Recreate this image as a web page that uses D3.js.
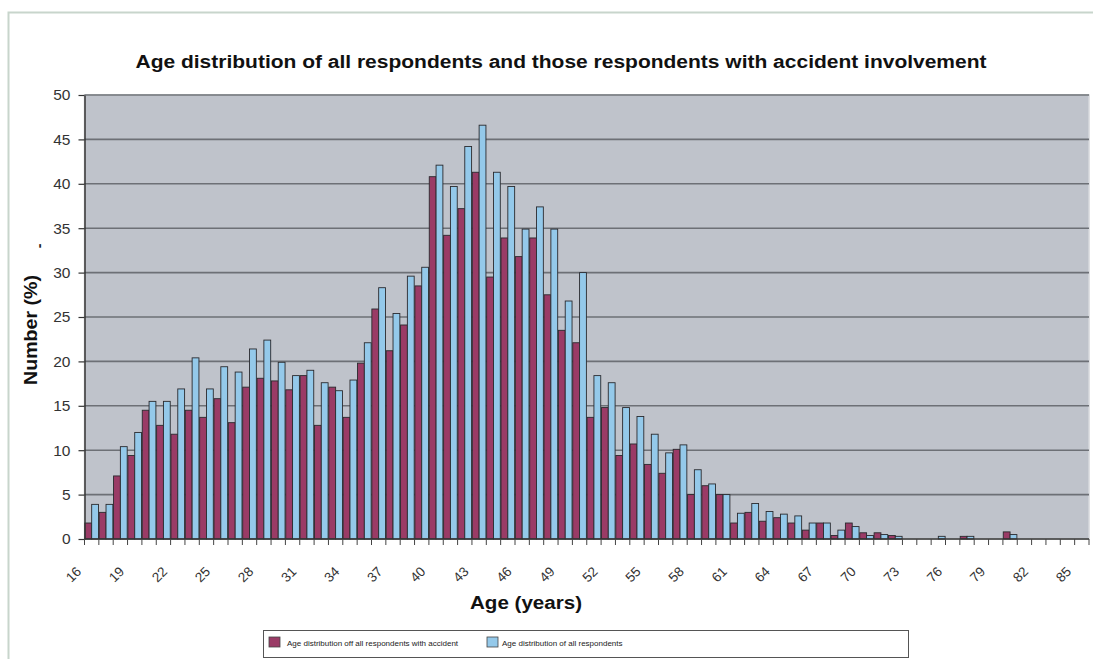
<!DOCTYPE html>
<html>
<head>
<meta charset="utf-8">
<script src="https://cdn.jsdelivr.net/npm/d3@7"></script>
<style>
  html, body { margin: 0; padding: 0; background: #ffffff; }
  svg { display: block; font-family: "Liberation Sans", Arial, sans-serif; }
</style>
</head>
<body>
<svg id="chart" width="1093" height="659"></svg>
<script>
// Ages 16 to 85, one category per year
const ages = d3.range(16, 86);

// Percentage of respondents with an accident, per age
const accidentValues = [
  1.8, 3.0, 7.1, 9.4, 14.5, 12.8, 11.8, 14.5, 13.7, 15.8,
  13.1, 17.1, 18.1, 17.8, 16.8, 18.4, 12.8, 17.1, 13.7, 19.8,
  25.9, 21.2, 24.1, 28.5, 40.8, 34.2, 37.2, 41.3, 29.5, 33.9,
  31.8, 33.9, 27.5, 23.5, 22.1, 13.7, 14.8, 9.4, 10.7, 8.4,
  7.4, 10.1, 5.0, 6.0, 5.0, 1.8, 3.0, 2.0, 2.4, 1.8,
  1.0, 1.8, 0.4, 1.8, 0.7, 0.7, 0.4, 0, 0, 0,
  0, 0.3, 0, 0, 0.8, 0, 0, 0, 0, 0
];

// Percentage of all respondents, per age
const allValues = [
  3.9, 3.9, 10.4, 12.0, 15.5, 15.5, 16.9, 20.4, 16.9, 19.4,
  18.8, 21.4, 22.4, 19.9, 18.4, 19.0, 17.6, 16.7, 17.9, 22.1,
  28.3, 25.4, 29.6, 30.6, 42.1, 39.7, 44.2, 46.6, 41.3, 39.7,
  34.9, 37.4, 34.9, 26.8, 30.0, 18.4, 17.6, 14.8, 13.8, 11.8,
  9.7, 10.6, 7.8, 6.2, 5.0, 2.9, 4.0, 3.1, 2.8, 2.6,
  1.8, 1.8, 1.0, 1.4, 0.4, 0.5, 0.3, 0, 0, 0.3,
  0, 0.3, 0, 0, 0.5, 0, 0, 0, 0, 0
];

const seriesNames = [
  "Age distribution off all respondents with accident",
  "Age distribution of all respondents"
];
const seriesColors = ["#9a3b66", "#94c9ea"];

const yTicks = d3.range(0, 51, 5);
const xTickLabels = ages.filter((a, i) => i % 3 === 0);

const titleText = "Age distribution of all respondents and those respondents with accident involvement";
const xTitle = "Age (years)";
const yTitle = "Number (%)";

const svg = d3.select("#chart");

// Outer frame (left and top edges)
svg.append("path")
  .attr("d", "M8.5,659 V12.5 H1093")
  .attr("fill", "none")
  .attr("stroke", "#c8d5cc")
  .attr("stroke-width", 2);

const plot = { left: 84.5, right: 1089, top: 95, bottom: 539 };

const x = d3.scaleBand()
  .domain(ages)
  .range([plot.left, plot.right])
  .paddingInner(0.05)
  .paddingOuter(0.025);

const xSub = d3.scaleBand()
  .domain([0, 1])
  .range([0, x.bandwidth()]);

const y = d3.scaleLinear()
  .domain([0, 50])
  .range([plot.bottom, plot.top]);

// Plot area background
svg.append("rect")
  .attr("x", plot.left)
  .attr("y", plot.top)
  .attr("width", plot.right - plot.left)
  .attr("height", plot.bottom - plot.top)
  .attr("fill", "#bfc3cb")
  .attr("stroke", "#d6d8dc")
  .attr("stroke-width", 1.5);

// Horizontal gridlines
svg.append("g")
  .selectAll("line")
  .data(yTicks.filter(v => v > 0))
  .join("line")
  .attr("x1", plot.left)
  .attr("x2", plot.right)
  .attr("y1", d => y(d))
  .attr("y2", d => y(d))
  .attr("stroke", "#6d7076")
  .attr("stroke-width", 1.6);

// Bars: accident series first, all respondents second, side by side
const rows = ages.map((a, i) => ({ age: a, values: [accidentValues[i], allValues[i]] }));

const groups = svg.append("g")
  .selectAll("g")
  .data(rows)
  .join("g")
  .attr("transform", d => `translate(${x(d.age)},0)`);

groups.selectAll("rect")
  .data(d => d.values.map((v, s) => ({ v, s })).filter(o => o.v > 0))
  .join("rect")
  .attr("x", d => xSub(d.s))
  .attr("width", xSub.bandwidth())
  .attr("y", d => y(d.v))
  .attr("height", d => y(0) - y(d.v))
  .attr("fill", d => seriesColors[d.s])
  .attr("stroke", "#2a2a2e")
  .attr("stroke-width", 0.9);

// Y axis
const yAxis = svg.append("g")
  .attr("transform", `translate(${plot.left},0)`)
  .call(d3.axisLeft(y).tickValues(yTicks).tickSize(6).tickPadding(8).tickSizeOuter(0));
yAxis.select(".domain").attr("stroke", "#333").attr("stroke-width", 1.5);
yAxis.selectAll(".tick line").attr("stroke", "#333").attr("stroke-width", 1.2);
yAxis.selectAll(".tick text")
  .attr("font-size", 15.5)
  .attr("fill", "#333")
  .attr("font-family", "Liberation Sans, Arial, sans-serif");

// X axis line
svg.append("line")
  .attr("x1", plot.left).attr("x2", plot.right)
  .attr("y1", plot.bottom).attr("y2", plot.bottom)
  .attr("stroke", "#333").attr("stroke-width", 1.5);

// X tick marks at category boundaries
const boundaries = ages.map(a => x(a) - (x.step() - x.bandwidth()) / 2).concat([plot.right]);
svg.append("g")
  .selectAll("line")
  .data(boundaries)
  .join("line")
  .attr("x1", d => d).attr("x2", d => d)
  .attr("y1", plot.bottom).attr("y2", plot.bottom + 6)
  .attr("stroke", "#444").attr("stroke-width", 1);

// X tick labels, every third age, rotated
const xAxis = svg.append("g")
  .attr("transform", `translate(0,${plot.bottom})`)
  .call(d3.axisBottom(x).tickValues(xTickLabels).tickSize(0));
xAxis.select(".domain").remove();
xAxis.selectAll(".tick text")
  .attr("x", 0)
  .attr("y", 0)
  .attr("dy", "0.35em")
  .attr("text-anchor", "end")
  .attr("transform", "translate(-13,30) rotate(-45)")
  .attr("font-size", 13.5)
  .attr("fill", "#333")
  .attr("font-family", "Liberation Sans, Arial, sans-serif");

// Title
svg.append("text")
  .attr("x", 561)
  .attr("y", 68)
  .attr("text-anchor", "middle")
  .attr("font-weight", "bold")
  .attr("font-size", 17.5)
  .attr("fill", "#111")
  .attr("textLength", 851)
  .attr("lengthAdjust", "spacingAndGlyphs")
  .text(titleText);

// X axis title
svg.append("text")
  .attr("x", 526)
  .attr("y", 609)
  .attr("text-anchor", "middle")
  .attr("font-weight", "bold")
  .attr("font-size", 18)
  .attr("fill", "#111")
  .attr("textLength", 112)
  .attr("lengthAdjust", "spacingAndGlyphs")
  .text(xTitle);

// Y axis title
svg.append("text")
  .attr("transform", "translate(37,330) rotate(-90)")
  .attr("text-anchor", "middle")
  .attr("font-weight", "bold")
  .attr("font-size", 18)
  .attr("fill", "#111")
  .attr("textLength", 110)
  .attr("lengthAdjust", "spacingAndGlyphs")
  .text(yTitle);

// Small dash beside the axis title
svg.append("text")
  .attr("transform", "translate(44,246) rotate(-90)")
  .attr("text-anchor", "middle")
  .attr("font-weight", "bold")
  .attr("font-size", 14)
  .attr("fill", "#222")
  .text("-");

// Legend
const legend = svg.append("g");
legend.append("rect")
  .attr("x", 263.5).attr("y", 630.5)
  .attr("width", 645).attr("height", 27)
  .attr("fill", "#ffffff")
  .attr("stroke", "#555")
  .attr("stroke-width", 1);

const legendX = [269, 487];
const items = legend.selectAll("g.item")
  .data(seriesNames)
  .join("g")
  .attr("class", "item")
  .attr("transform", (d, i) => `translate(${legendX[i]},637)`);
items.append("rect")
  .attr("width", 11).attr("height", 10)
  .attr("fill", (d, i) => seriesColors[i])
  .attr("stroke", "#444").attr("stroke-width", 0.8);
items.append("text")
  .attr("x", (d, i) => i === 0 ? 18 : 15)
  .attr("y", 8.5)
  .attr("font-size", 8)
  .attr("fill", "#222")
  .text(d => d);
</script>
</body>
</html>
